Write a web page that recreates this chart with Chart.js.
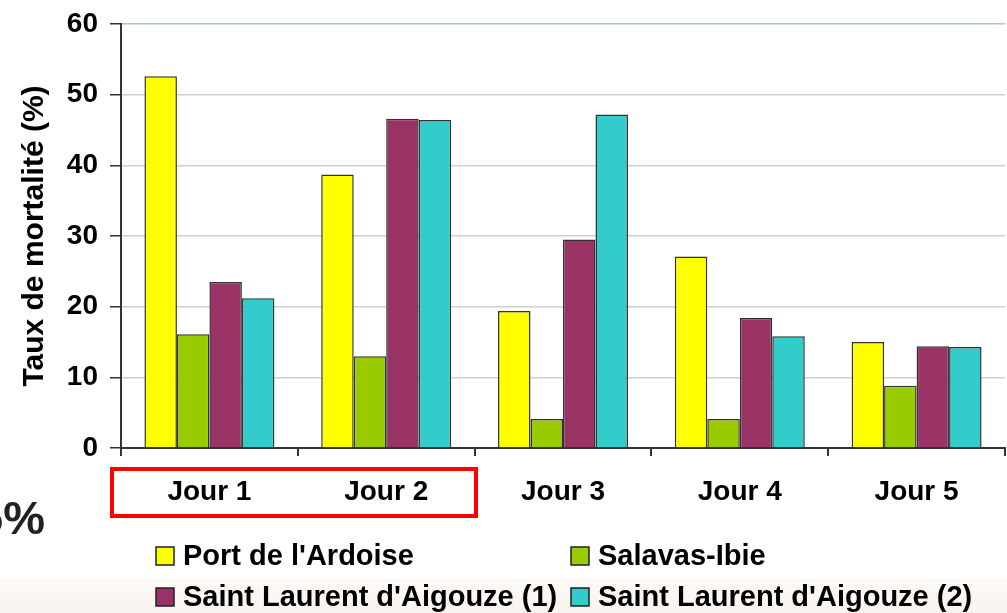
<!DOCTYPE html>
<html>
<head>
<meta charset="utf-8">
<script src="https://cdn.jsdelivr.net/npm/chart.js@4.4.0/dist/chart.umd.min.js"></script>
<style>
    html, body { margin: 0; padding: 0; background: #fff; overflow: hidden; }
    #wrap { position: relative; width: 1007px; height: 613px; }
</style>
</head>
<body>
<div id="wrap"><canvas id="chartCanvas" width="1007" height="613"></canvas></div>
<script>
const days = ["Jour 1", "Jour 2", "Jour 3", "Jour 4", "Jour 5"];
const portArdoise = [52.6, 38.7, 19.4, 27.1, 15.0];
const salavasIbie = [16.1, 13.0, 4.1, 4.1, 8.8];
const stLaurent1 = [23.5, 46.6, 29.5, 18.4, 14.4];
const stLaurent2 = [21.2, 46.4, 47.2, 15.8, 14.3];
const seriesNames = ["Port de l'Ardoise", "Salavas-Ibie", "Saint Laurent d'Aigouze (1)", "Saint Laurent d'Aigouze (2)"];
const seriesColors = ["#ffff00", "#99cc00", "#993366", "#33cccc"];
const yMax = 60;
const yStep = 10;

const FONT = "'Liberation Sans', Arial, sans-serif";

// background, red frame round Jour 1 / Jour 2, cut "5%" and a two-column legend
const extras = {
    id: 'extras',
    beforeDraw(chart) {
        const ctx = chart.ctx;
        ctx.save();
        const g = ctx.createLinearGradient(0, 578, 0, 613);
        g.addColorStop(0, '#fcfaf7');
        g.addColorStop(1, '#f8f3ee');
        ctx.fillStyle = g;
        ctx.fillRect(0, 578, 1007, 35);
        ctx.restore();
    },
    afterDraw(chart) {
        const ctx = chart.ctx;
        ctx.save();
        // red frame
        ctx.strokeStyle = '#ff0000';
        ctx.lineWidth = 4;
        ctx.strokeRect(112, 469, 364, 47);

        // partial "5%" at left edge
        ctx.fillStyle = '#222';
        ctx.font = "bold 47px " + FONT;
        ctx.textAlign = 'right';
        ctx.textBaseline = 'alphabetic';
        ctx.fillText('5%', 45, 534);

        // legend
        const spots = [[156, 556], [571, 556], [156, 597], [571, 597]];
        ctx.font = "bold 29px " + FONT;
        ctx.textAlign = 'left';
        ctx.textBaseline = 'middle';
        chart.data.datasets.forEach((ds, i) => {
            const [x, y] = spots[i];
            ctx.fillStyle = ds.backgroundColor;
            ctx.fillRect(x, y - 9, 18, 18);
            ctx.strokeStyle = '#222';
            ctx.lineWidth = 1.5;
            ctx.strokeRect(x, y - 9, 18, 18);
            ctx.fillStyle = '#000';
            ctx.fillText(ds.label, x + 27, y + 1);
        });
        ctx.restore();
    }
};

const seriesData = [portArdoise, salavasIbie, stLaurent1, stLaurent2];

const ctxBar = document.getElementById('chartCanvas').getContext('2d');
const barChart = new Chart(ctxBar, {
    type: 'bar',
    data: {
        labels: days,
        datasets: seriesData.map((vals, i) => ({
            label: seriesNames[i],
            data: vals,
            backgroundColor: seriesColors[i],
            borderColor: '#333',
            borderWidth: 1.5,
            barPercentage: 1.0,
            categoryPercentage: 0.735
        }))
    },
    options: {
        responsive: false,
        animation: false,
        devicePixelRatio: 1,
        layout: { padding: { left: 0, top: 24, right: 2, bottom: 0 } },
        plugins: {
            legend: { display: false },
            tooltip: { enabled: false }
        },
        scales: {
            x: {
                afterFit(scale) {
                    scale.height = 165;
                    scale.paddingLeft = 0;
                    scale.paddingRight = 0;
                },
                grid: {
                    offset: true,
                    drawOnChartArea: false,
                    tickLength: 8,
                    color: '#333',
                    lineWidth: 2
                },
                border: { color: '#333', width: 2 },
                ticks: {
                    color: '#000',
                    padding: 19,
                    font: { family: FONT, size: 28, weight: 'bold' }
                }
            },
            y: {
                min: 0,
                max: yMax,
                afterFit(scale) {
                    scale.width = 121;
                    scale.paddingTop = 0;
                    scale.paddingBottom = 0;
                },
                grid: {
                    color: (c) => c.tick && c.tick.value === yMax ? '#a9cfa9' : '#cfcfcf',
                    lineWidth: 1.5,
                    tickColor: '#333',
                    tickLength: 11
                },
                border: { color: '#333', width: 2 },
                ticks: {
                    stepSize: yStep,
                    color: '#000',
                    padding: 12,
                    font: { family: FONT, size: 28, weight: 'bold' }
                },
                title: {
                    display: true,
                    text: 'Taux de mortalité (%)',
                    color: '#000',
                    padding: { top: 17, bottom: 0 },
                    font: { family: FONT, size: 30, weight: 'bold' }
                }
            }
        }
    },
    plugins: [extras]
});
</script>
</body>
</html>
